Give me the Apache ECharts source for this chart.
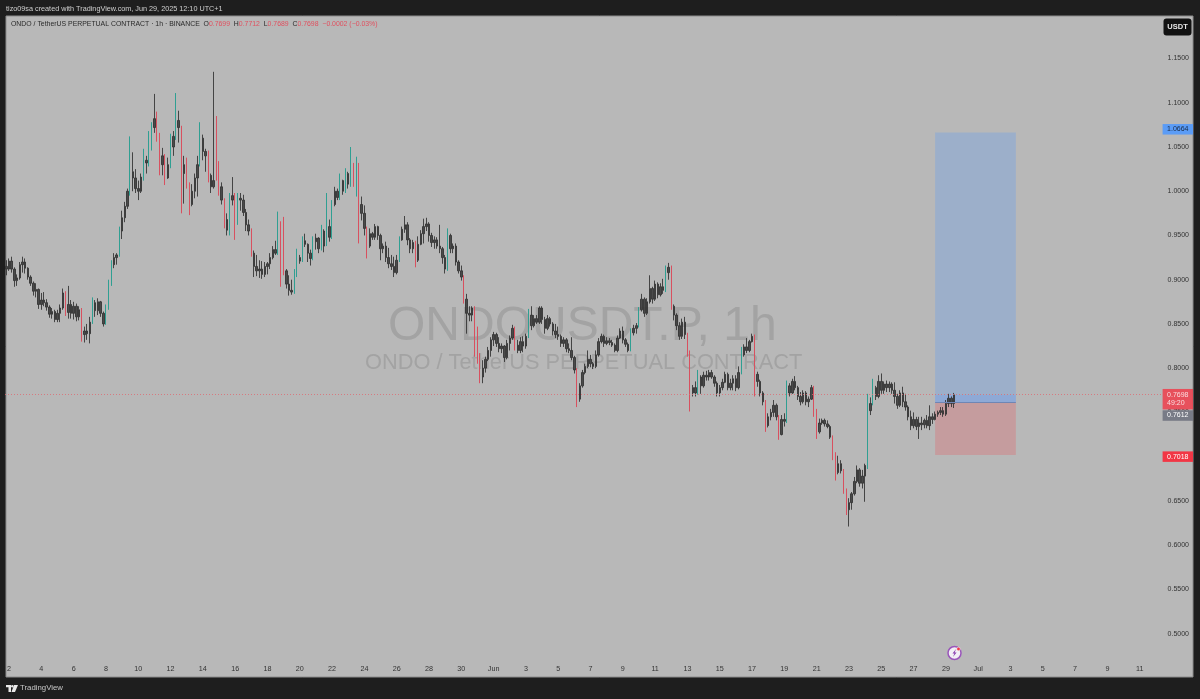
<!DOCTYPE html>
<html>
<head>
<meta charset="utf-8">
<title>ONDOUSDT.P 1h</title>
<script src="https://cdn.jsdelivr.net/npm/echarts@6/dist/echarts.min.js"></script>
<style>
html, body { margin: 0; padding: 0; background: #1e1e1e; }
#container { width: 1200px; height: 699px; }
</style>
</head>
<body>
<div id="container"></div>
<script>
// 4 hour candles, first slot is May 1 20:00
var opens = [
	.915,.912,.921,.912,.899,.902,.917,.920,.913,.903,.896,.887,.889,.872,.877,.874,.869,.861,.864,.855,
	.862,.868,.885,.863,.872,.862,.870,.858,.866,.838,.842,.839,.852,.874,.865,.875,.862,.850,.868,.895,
	.917,.925,.928,.955,.970,.983,1.000,1.022,1.015,1.003,1.000,1.016,1.035,1.032,1.050,1.072,1.082,1.062,1.030,
	1.040,1.015,1.030,1.050,1.062,1.080,1.072,1.020,1.030,1.005,.985,1.000,1.015,1.030,1.060,1.045,1.040,1.018,1.005,1.080,
	1.030,1.005,.990,.968,.956,.990,.995,.965,.992,.990,.976,.962,.955,.930,.915,.910,.912,.906,.915,.918,
	.925,.934,.930,.965,.930,.910,.895,.888,.886,.905,.925,
	.921,.944,.940,.930,.924,.943,.947,.935,.955,.938,.960,.948,.985,1.000,.993,1.012,1.000,1.020,1.008,1.030,
	1.010,1.030,.985,.975,.958,.938,.952,.948,.960,.950,.935,.938,.925,.918,.915,.908,.922,.945,.957,.962,
	.945,.935,.942,.922,.940,.952,.960,.963,.950,.942,.945,.938,.935,.925,.912,.950,.935,.938,.920,.910,
	.903,.878,.862,.860,.868,.835,.815,.790,.800,.810,.820,.832,.838,.828,.822,.825,.812,.828,.834,.845,
	.826,.820,.830,.825,.836,.860,.848,.856,.852,.868,.855,.845,.856,.850,.842,.838,.836,.828,.832,.822,
	.820,.812,.798,.765,.780,.795,.802,.810,.805,.802,.815,.830,
	.836,.828,.831,.829,.826,.820,.834,.842,.832,.827,.820,.840,.845,.848,.866,.878,.862,.875,.890,.878,
	.895,.883,.892,.888,.908,.914,.870,.860,.848,.836,.852,.838,.818,.772,.778,.772,.790,.780,.792,.790,
	.795,.790,.783,.772,.778,.784,.793,.778,.783,.788,.778,.795,.815,.824,.820,.830,.836,.793,.785,.772,
	.762,.735,.745,.750,.758,.745,.725,.742,.740,.780,.772,.785,.778,.768,.762,.772,.762,.765,.778,.752,
	.728,.738,.741,.737,.734,.722,.702,.682,.692,.684,.662,.640,.648,.658,.672,.685,.670,.678,.690,.752,
	.760,.778,.768,.785,.775,.782,.778,.782,.775,.768,.758,.772,.762,.756,.745,.735,.742,.734,.738,.736,
	.741,.735,.745,.742,.748,.750,.752,.748,.760,.766,.760
];
var highs = [
	.922,.924,.926,.914,.906,.920,.926,.924,.914,.905,.898,.896,.890,.885,.886,.878,.871,.868,.866,.866,
	.872,.890,.887,.893,.877,.875,.873,.870,.868,.847,.850,.858,.880,.877,.879,.876,.864,.872,.900,.922,
	.930,.930,.960,.978,.988,1.003,1.062,1.044,1.025,1.012,1.020,1.048,1.040,1.068,1.078,1.110,1.090,1.066,1.049,
	1.042,1.038,1.065,1.068,1.111,1.091,1.074,1.040,1.038,1.010,1.008,1.020,1.040,1.078,1.064,1.048,1.046,1.020,1.135,1.085,
	1.034,1.010,.992,.975,.998,1.016,.998,.998,.998,.996,.980,.968,.958,.933,.928,.922,.921,.920,.920,.930,
	.938,.944,.977,.966,.971,.912,.905,.900,.912,.935,.928,
	.949,.952,.941,.934,.949,.952,.948,.962,.957,.998,.968,.990,1.005,1.003,1.020,1.013,1.026,1.022,1.050,1.032,
	1.039,1.032,.994,.984,.960,.958,.954,.963,.961,.952,.941,.943,.936,.928,.926,.928,.949,.960,.972,.965,
	.947,.945,.944,.949,.956,.969,.970,.965,.953,.949,.948,.962,.937,.928,.958,.952,.941,.941,.922,.916,
	.905,.884,.870,.870,.870,.847,.817,.809,.813,.824,.835,.841,.840,.835,.828,.826,.832,.837,.849,.847,
	.832,.835,.836,.839,.867,.870,.860,.860,.870,.870,.858,.860,.858,.852,.850,.847,.838,.835,.834,.828,
	.835,.814,.800,.783,.798,.805,.820,.815,.807,.820,.834,.839,
	.838,.835,.834,.832,.828,.837,.845,.847,.834,.829,.845,.849,.851,.869,.884,.880,.879,.905,.892,.899,
	.897,.896,.901,.916,.919,.916,.872,.862,.852,.856,.858,.840,.820,.781,.785,.798,.792,.796,.797,.798,
	.798,.792,.785,.781,.788,.796,.795,.788,.792,.792,.802,.824,.827,.834,.832,.839,.838,.796,.787,.774,
	.764,.749,.754,.764,.760,.747,.747,.749,.786,.783,.788,.791,.780,.773,.775,.774,.768,.781,.780,.754,
	.743,.743,.743,.741,.736,.724,.705,.701,.696,.686,.664,.653,.660,.677,.690,.687,.685,.692,.771,.767,
	.788,.780,.792,.794,.785,.786,.785,.784,.784,.771,.775,.779,.771,.758,.752,.750,.745,.745,.745,.743,
	.747,.758,.749,.751,.752,.756,.756,.764,.771,.768,.772
];
var lows = [
	.905,.910,.908,.892,.893,.900,.908,.907,.900,.893,.882,.880,.867,.866,.870,.865,.857,.856,.852,.852,
	.852,.866,.859,.856,.856,.855,.853,.854,.830,.829,.832,.828,.850,.858,.860,.858,.847,.849,.866,.893,
	.913,.917,.926,.946,.965,.980,.995,1.000,.998,.990,.998,1.012,1.020,1.028,1.046,1.066,1.056,1.018,1.018,
	1.007,1.014,1.026,1.040,1.058,1.055,.975,.986,1.003,.973,.983,.992,.994,1.028,1.035,1.022,1.010,.998,1.003,1.012,
	.995,.985,.958,.950,.950,.984,.945,.962,.978,.972,.955,.950,.926,.903,.904,.902,.901,.903,.906,.912,
	.923,.928,.928,.892,.905,.890,.882,.883,.884,.903,.918,
	.920,.937,.920,.916,.922,.934,.930,.933,.931,.938,.943,.946,.983,.990,.990,.996,.998,1.003,1.005,1.005,
	.994,.941,.967,.950,.924,.936,.945,.945,.945,.922,.930,.920,.913,.911,.903,.906,.920,.944,.953,.939,
	.930,.930,.914,.920,.939,.941,.955,.943,.937,.935,.935,.930,.918,.907,.910,.930,.930,.916,.907,.899,
	.873,.839,.853,.853,.813,.805,.783,.783,.795,.808,.813,.825,.824,.818,.817,.807,.810,.820,.832,.820,
	.817,.817,.818,.822,.834,.843,.846,.850,.850,.850,.839,.843,.847,.837,.834,.832,.824,.824,.818,.817,
	.809,.794,.756,.762,.778,.793,.800,.801,.799,.800,.813,.828,
	.824,.826,.826,.824,.818,.818,.833,.828,.824,.818,.819,.837,.839,.846,.864,.858,.860,.873,.873,.876,
	.879,.881,.884,.886,.900,.866,.854,.843,.832,.833,.833,.813,.751,.768,.768,.770,.771,.778,.786,.786,
	.788,.779,.768,.768,.775,.783,.775,.775,.775,.774,.776,.793,.813,.817,.818,.829,.768,.779,.768,.758,
	.728,.733,.741,.745,.741,.719,.724,.734,.738,.768,.771,.775,.764,.758,.760,.758,.756,.764,.745,.720,
	.726,.736,.734,.732,.720,.696,.673,.680,.681,.658,.634,.621,.640,.656,.670,.666,.664,.649,.686,.747,
	.758,.764,.766,.771,.771,.773,.773,.771,.760,.754,.756,.756,.752,.741,.730,.732,.730,.720,.730,.732,
	.732,.730,.737,.741,.745,.747,.745,.746,.756,.756,.755
];
var closes = [
	.912,.921,.912,.899,.902,.917,.920,.913,.903,.896,.887,.889,.872,.877,.874,.869,.861,.864,.855,.862,
	.868,.885,.863,.872,.862,.870,.858,.866,.838,.842,.839,.852,.874,.865,.875,.862,.850,.868,.895,.917,
	.925,.928,.955,.970,.983,1.000,1.022,1.015,1.003,1.000,1.016,1.035,1.032,1.050,1.072,1.082,1.062,1.030,1.040,
	1.015,1.030,1.050,1.062,1.080,1.072,1.020,1.030,1.005,.985,1.000,1.015,1.030,1.060,1.045,1.040,1.018,1.005,1.012,1.030,
	1.005,.990,.968,.956,.990,.995,.965,.992,.990,.976,.962,.955,.930,.915,.910,.912,.906,.915,.918,.925,
	.934,.930,.965,.930,.910,.895,.888,.886,.905,.925,.921,
	.944,.940,.930,.924,.943,.947,.935,.955,.938,.960,.948,.985,1.000,.993,1.012,1.000,1.020,1.008,1.030,1.010,
	1.030,.985,.975,.958,.938,.952,.948,.960,.950,.935,.938,.925,.918,.915,.908,.922,.945,.957,.962,.945,
	.935,.942,.922,.940,.952,.960,.963,.950,.942,.945,.938,.935,.925,.912,.950,.935,.938,.920,.910,.903,
	.878,.862,.860,.868,.835,.815,.790,.800,.810,.820,.832,.838,.828,.822,.825,.812,.828,.834,.845,.826,
	.820,.830,.825,.836,.860,.848,.856,.852,.868,.855,.845,.856,.850,.842,.838,.836,.828,.832,.822,.820,
	.812,.798,.765,.780,.795,.802,.810,.805,.802,.815,.830,.836,
	.828,.831,.829,.826,.820,.834,.842,.832,.827,.820,.840,.845,.848,.866,.878,.862,.875,.890,.878,.895,
	.883,.892,.888,.908,.914,.870,.860,.848,.836,.852,.838,.818,.772,.778,.772,.790,.780,.792,.790,.795,
	.790,.783,.772,.778,.784,.793,.778,.783,.788,.778,.795,.815,.824,.820,.830,.836,.793,.785,.772,.762,
	.735,.745,.750,.758,.745,.725,.742,.740,.780,.772,.785,.778,.768,.762,.772,.762,.765,.778,.752,.728,
	.738,.741,.737,.734,.722,.702,.682,.692,.684,.662,.640,.648,.658,.672,.685,.670,.678,.690,.752,.760,
	.778,.768,.785,.775,.782,.778,.782,.775,.768,.758,.772,.762,.756,.745,.735,.742,.734,.738,.736,.741,
	.735,.745,.742,.748,.750,.752,.748,.760,.766,.760,.7698
];

// x axis labels, one every 2 days starting at May 2
var tickLabels = ['2','4','6','8','10','12','14','16','18','20','22','24','26','28','30',
	'Jun','3','5','7','9','11','13','15','17','19','21','23','25','27','29',
	'Jul','3','5','7','9','11'];

var slotCount = 430; // 4h slots on the x axis, to past Jul 12
var firstTickSlot = 1;
var slotsPerTick = 12;

var targetPrice = 1.0664;
var lastPrice = 0.7698;
var entryPrice = 0.7612;
var stopPrice = 0.7018;
var boxStartSlot = 345;
var boxEndSlot = 375;

var categories = [];
for (var i = 0; i < slotCount; i++) {
	var d = new Date(Date.UTC(2025, 4, 1, 20 + i * 4));
	categories.push(d.toISOString().slice(0, 16));
}

// the steep candles read as thin coloured lines in the picture, everything else as dark wicks
var bigMove = 0.018;
var empty = ['-', '-', '-', '-'];
var smallCandles = opens.map(function (o, i) {
	return Math.abs(closes[i] - o) < bigMove ? [o, closes[i], lows[i], highs[i]] : empty;
});
var bigCandles = opens.map(function (o, i) {
	return Math.abs(closes[i] - o) >= bigMove ? [o, closes[i], lows[i], highs[i]] : empty;
});

function priceTag(value, bg, fg, text, shift) {
	return {
		yAxis: value,
		lineStyle: { color: 'rgba(0,0,0,0)' },
		label: {
			show: true, position: 'end', distance: 0, offset: [0, shift || 0],
			formatter: text, backgroundColor: bg, color: fg,
			fontSize: 7, fontFamily: 'Liberation Sans', padding: [1.5, 4.5, 1, 4.5], lineHeight: 8
		}
	};
}

var dom = document.getElementById('container');
var myChart = echarts.init(dom, null, { renderer: 'canvas' });

var option = {
	animation: false,
	backgroundColor: '#1e1e1e',
	grid: { left: 5, top: 14.3, width: 1157.6, height: 663.5 },
	xAxis: {
		type: 'category',
		data: categories,
		axisLine: { show: false },
		axisTick: { show: false },
		splitLine: { show: false },
		axisLabel: {
			inside: true, margin: 5,
			color: '#333', fontSize: 7.2, fontFamily: 'Liberation Sans',
			hideOverlap: false,
			interval: function (index) {
				return index >= firstTickSlot && (index - firstTickSlot) % slotsPerTick === 0;
			},
			formatter: function (value) {
				var n = categories.indexOf(value);
				return tickLabels[(n - firstTickSlot) / slotsPerTick] || '';
			}
		}
	},
	yAxis: {
		type: 'value',
		position: 'right',
		min: 0.45,
		max: 1.2,
		interval: 0.05,
		scale: true,
		axisLine: { show: false },
		axisTick: { show: false },
		splitLine: { show: false },
		axisLabel: {
			margin: 5, showMinLabel: false, showMaxLabel: false,
			color: '#333', fontSize: 7, fontFamily: 'Liberation Sans',
			formatter: function (v) { return v.toFixed(4); }
		}
	},
	series: [ {
		type: 'candlestick',
		barWidth: 2,
		data: smallCandles,
		itemStyle: { color: '#3a3a3a', color0: '#3a3a3a', borderColor: '#333', borderColor0: '#333', borderWidth: 1, opacity: 0.88 },
		markArea: {
			silent: true,
			data: [
				[ { xAxis: categories[boxStartSlot], yAxis: targetPrice, itemStyle: { color: '#9cafca' } },
				  { xAxis: categories[boxEndSlot], yAxis: entryPrice } ],
				[ { xAxis: categories[boxStartSlot], yAxis: lastPrice, itemStyle: { color: '#8ea9d6' } },
				  { xAxis: categories[boxEndSlot], yAxis: entryPrice } ],
				[ { xAxis: categories[boxStartSlot], yAxis: entryPrice, itemStyle: { color: '#c59c9e' } },
				  { xAxis: categories[boxEndSlot], yAxis: stopPrice } ]
			]
		},
		markLine: {
			silent: true,
			symbol: 'none',
			animation: false,
			data: [
				priceTag(targetPrice, '#5b9cf6', '#1a2a44', '1.0664'),
				priceTag(entryPrice, '#787b86', '#ffffff', '0.7612', 12),
				priceTag(stopPrice, '#f23645', '#ffffff', '0.7018'),
				{
					yAxis: lastPrice,
					lineStyle: { color: '#dd6a72', type: [1, 2], width: 1, opacity: 0.8 },
					label: {
						show: true, position: 'end', distance: 0, offset: [0, 4.5],
						formatter: '0.7698\n49:20', backgroundColor: '#f23645', color: '#fff',
						fontSize: 7, fontFamily: 'Liberation Sans', padding: [2, 4.5, 1.5, 4.5], lineHeight: 8.5
					}
				},
				[ { coord: [categories[boxStartSlot], entryPrice], lineStyle: { color: '#6f86b4', type: 'solid', width: 1 }, label: { show: false } },
				  { coord: [categories[boxEndSlot], entryPrice] } ]
			]
		}
	}, {
		type: 'candlestick',
		barWidth: 1,
		z: 3,
		data: bigCandles,
		itemStyle: { color: '#2f9f92', color0: '#d8505f', borderColor: '#2f9f92', borderColor0: '#d8505f', borderWidth: 1 }
	} ],
	graphic: [
		{ type: 'rect', z: -10, silent: true, shape: { x: 6, y: 16, width: 1187, height: 661 },
			style: { fill: '#b8b8b8', stroke: '#8c8c8c', lineWidth: 1 } },
		{ type: 'text', z: 0, silent: true, x: 388, y: 303,
			style: { text: 'ONDOUSDT.P, 1h', fill: '#a3a3a3', font: '48px "Liberation Sans"' } },
		{ type: 'text', z: 0, silent: true, x: 365, y: 352,
			style: { text: 'ONDO / TetherUS PERPETUAL CONTRACT', fill: '#a3a3a3', font: '21.8px "Liberation Sans"' } },
		{ type: 'text', z: 10, silent: true, x: 6, y: 5,
			style: { text: 'tizo09sa created with TradingView.com, Jun 29, 2025 12:10 UTC+1', fill: '#d0d0d0', font: '7.25px "Liberation Sans"' } },
		{ type: 'text', z: 10, silent: true, x: 11, y: 21,
			style: {
				text: '{a|ONDO / TetherUS PERPETUAL CONTRACT · 1h · BINANCE  O}{r|0.7699}{a|  H}{r|0.7712}{a|  L}{r|0.7689}{a|  C}{r|0.7698}{r|  −0.0002 (−0.03%)}',
				rich: {
					a: { fill: '#2a2a2a', font: '6.9px "Liberation Sans"' },
					r: { fill: '#e0505f', font: '6.9px "Liberation Sans"' }
				}
			} },
		{ type: 'rect', z: 10, silent: true, shape: { x: 1163.5, y: 18.5, width: 28, height: 17, r: 3 }, style: { fill: '#121212' } },
		{ type: 'text', z: 11, silent: true, x: 1177.5, y: 27,
			style: { text: 'USDT', fill: '#e8e8e8', font: 'bold 7.5px "Liberation Sans"', align: 'center', verticalAlign: 'middle' } },
		// small lightning badge above the x axis
		{ type: 'circle', z: 10, silent: true, shape: { cx: 954.5, cy: 653, r: 6.5 }, style: { fill: '#f2eef5', stroke: '#9a55bb', lineWidth: 1.5 } },
		{ type: 'polygon', z: 11, silent: true, shape: { points: [[956, 649], [952.5, 653.6], [954.4, 653.6], [953, 657], [956.6, 652.4], [954.7, 652.4]] }, style: { fill: '#8a3fb0' } },
		{ type: 'circle', z: 11, silent: true, shape: { cx: 958.5, cy: 649, r: 1.8 }, style: { fill: '#f23645', stroke: '#f2eef5', lineWidth: 0.6 } },
		// TradingView mark in the footer
		{ type: 'polygon', z: 10, silent: true, shape: { points: [[6, 685], [11, 685], [11, 692], [8.5, 692], [8.5, 687.2], [6, 687.2]] }, style: { fill: '#e8e8e8' } },
		{ type: 'circle', z: 10, silent: true, shape: { cx: 12.3, cy: 686.2, r: 1.2 }, style: { fill: '#e8e8e8' } },
		{ type: 'polygon', z: 10, silent: true, shape: { points: [[14, 685], [18, 685], [15, 692], [11.5, 692]] }, style: { fill: '#e8e8e8' } },
		{ type: 'text', z: 10, silent: true, x: 20, y: 684,
			style: { text: 'TradingView', fill: '#c8c8c8', font: '7.8px "Liberation Sans"' } }
	]
};

myChart.setOption(option, true);
</script>
</body>
</html>
